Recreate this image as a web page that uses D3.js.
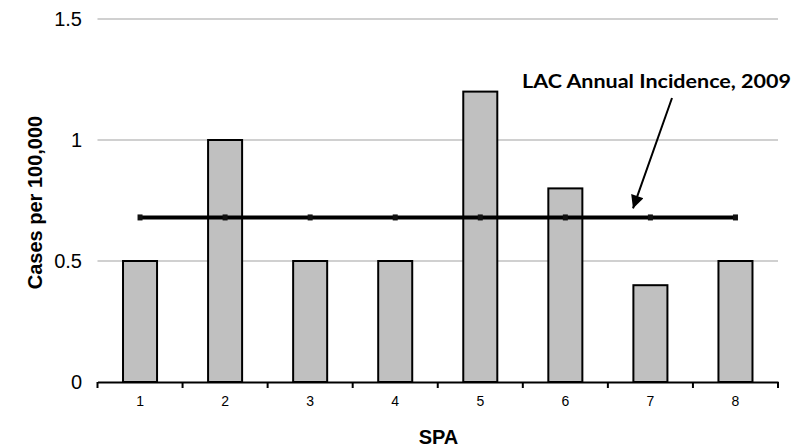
<!DOCTYPE html>
<html>
<head>
<meta charset="utf-8">
<script src="https://cdn.jsdelivr.net/npm/d3@7/dist/d3.min.js"></script>
<style>
  html, body { margin: 0; padding: 0; background: #fff; }
  svg { display: block; }
</style>
</head>
<body>
<svg id="chart" width="807" height="448"></svg>
<script>
// Service Planning Areas and their incidence (cases per 100,000)
const spas = ["1", "2", "3", "4", "5", "6", "7", "8"];
const rates = [0.5, 1.0, 0.5, 0.5, 1.2, 0.8, 0.4, 0.5];
// County-wide annual incidence reference line
const lacRate = 0.68;
const lacLabel = "LAC Annual Incidence, 2009";
const yTicks = [0, 0.5, 1, 1.5];

const svg = d3.select("#chart");
const margin = { left: 97.5, right: 29, top: 19, bottom: 66 };
const W = 807, H = 448;

const x = d3.scaleBand()
  .domain(spas)
  .range([margin.left, W - margin.right])
  .paddingInner(0.6)
  .paddingOuter(0.3);
const xBand = d3.scaleBand().domain(spas).range([margin.left, W - margin.right]);

const y = d3.scaleLinear().domain([0, 1.5]).range([H - margin.bottom, margin.top]);

// horizontal gridlines
svg.append("g")
  .selectAll("line")
  .data(yTicks.filter(d => d > 0))
  .join("line")
  .attr("x1", margin.left).attr("x2", W - margin.right)
  .attr("y1", d => y(d)).attr("y2", d => y(d))
  .attr("stroke", "#c0c0c0").attr("stroke-width", 1.6);

// y tick labels
svg.append("g")
  .selectAll("text")
  .data(yTicks)
  .join("text")
  .attr("x", 82).attr("y", d => y(d))
  .attr("dy", "0.36em")
  .attr("text-anchor", "end")
  .attr("font-family", "Liberation Sans, Arial, sans-serif")
  .attr("font-size", 20)
  .attr("fill", "#000")
  .text(d => d3.format("~g")(d));

// bars
svg.append("g")
  .selectAll("rect")
  .data(spas.map((s, i) => ({ s, v: rates[i] })))
  .join("rect")
  .attr("x", d => xBand(d.s) + xBand.bandwidth() * 0.3)
  .attr("width", xBand.bandwidth() * 0.4)
  .attr("y", d => y(d.v))
  .attr("height", d => y(0) - y(d.v))
  .attr("fill", "#c0c0c0")
  .attr("stroke", "#000")
  .attr("stroke-width", 2);

// x axis with ticks at category boundaries
const xAxis = d3.axisBottom(xBand).tickSize(0).tickPadding(14);
const gx = svg.append("g")
  .attr("transform", `translate(0,${y(0)})`)
  .call(xAxis);
gx.select(".domain").attr("stroke", "#000").attr("stroke-width", 2.2);
gx.selectAll(".tick text")
  .attr("font-family", "Liberation Sans, Arial, sans-serif")
  .attr("font-size", 14)
  .attr("fill", "#000");
const bounds = spas.map(s => xBand(s)).concat([xBand.range()[1]]);
gx.selectAll("line.bound")
  .data(bounds)
  .join("line")
  .attr("class", "bound")
  .attr("x1", d => d).attr("x2", d => d)
  .attr("y1", 0).attr("y2", 6)
  .attr("stroke", "#000").attr("stroke-width", 2);

// county-wide incidence line across SPA centers
const centers = spas.map(s => xBand(s) + xBand.bandwidth() / 2);
svg.append("line")
  .attr("x1", centers[0]).attr("x2", centers[centers.length - 1])
  .attr("y1", y(lacRate)).attr("y2", y(lacRate))
  .attr("stroke", "#000").attr("stroke-width", 4);
svg.append("g")
  .selectAll("rect")
  .data(centers)
  .join("rect")
  .attr("x", d => d - 2.5).attr("y", y(lacRate) - 3)
  .attr("width", 5).attr("height", 6)
  .attr("fill", "#111");

// annotation label and arrow
svg.append("text")
  .attr("x", 522).attr("y", 88)
  .attr("font-family", "Lato, 'Open Sans', sans-serif")
  .attr("font-weight", "bold")
  .attr("font-size", 18)
  .attr("textLength", 269)
  .attr("lengthAdjust", "spacingAndGlyphs")
  .attr("fill", "#000")
  .text(lacLabel);

svg.append("defs").append("marker")
  .attr("id", "arrowhead")
  .attr("viewBox", "0 0 10 10")
  .attr("refX", 10).attr("refY", 5)
  .attr("markerUnits", "userSpaceOnUse")
  .attr("markerWidth", 15).attr("markerHeight", 13)
  .attr("orient", "auto")
  .append("path")
  .attr("d", "M0,0 L10,5 L0,10 Z")
  .attr("fill", "#000");

svg.append("line")
  .attr("x1", 672).attr("y1", 98)
  .attr("x2", 633).attr("y2", y(lacRate) - 9)
  .attr("stroke", "#000").attr("stroke-width", 2)
  .attr("marker-end", "url(#arrowhead)");

// axis titles
svg.append("text")
  .attr("x", W / 2 + 35).attr("y", 444)
  .attr("text-anchor", "middle")
  .attr("font-family", "Liberation Sans, Arial, sans-serif")
  .attr("font-weight", "bold")
  .attr("font-size", 20)
  .attr("fill", "#000")
  .text("SPA");

svg.append("text")
  .attr("transform", `translate(42,${(margin.top + y(0)) / 2 + 2}) rotate(-90)`)
  .attr("text-anchor", "middle")
  .attr("font-family", "Liberation Sans, Arial, sans-serif")
  .attr("font-weight", "bold")
  .attr("font-size", 20)
  .attr("fill", "#000")
  .text("Cases per 100,000");
</script>
</body>
</html>
